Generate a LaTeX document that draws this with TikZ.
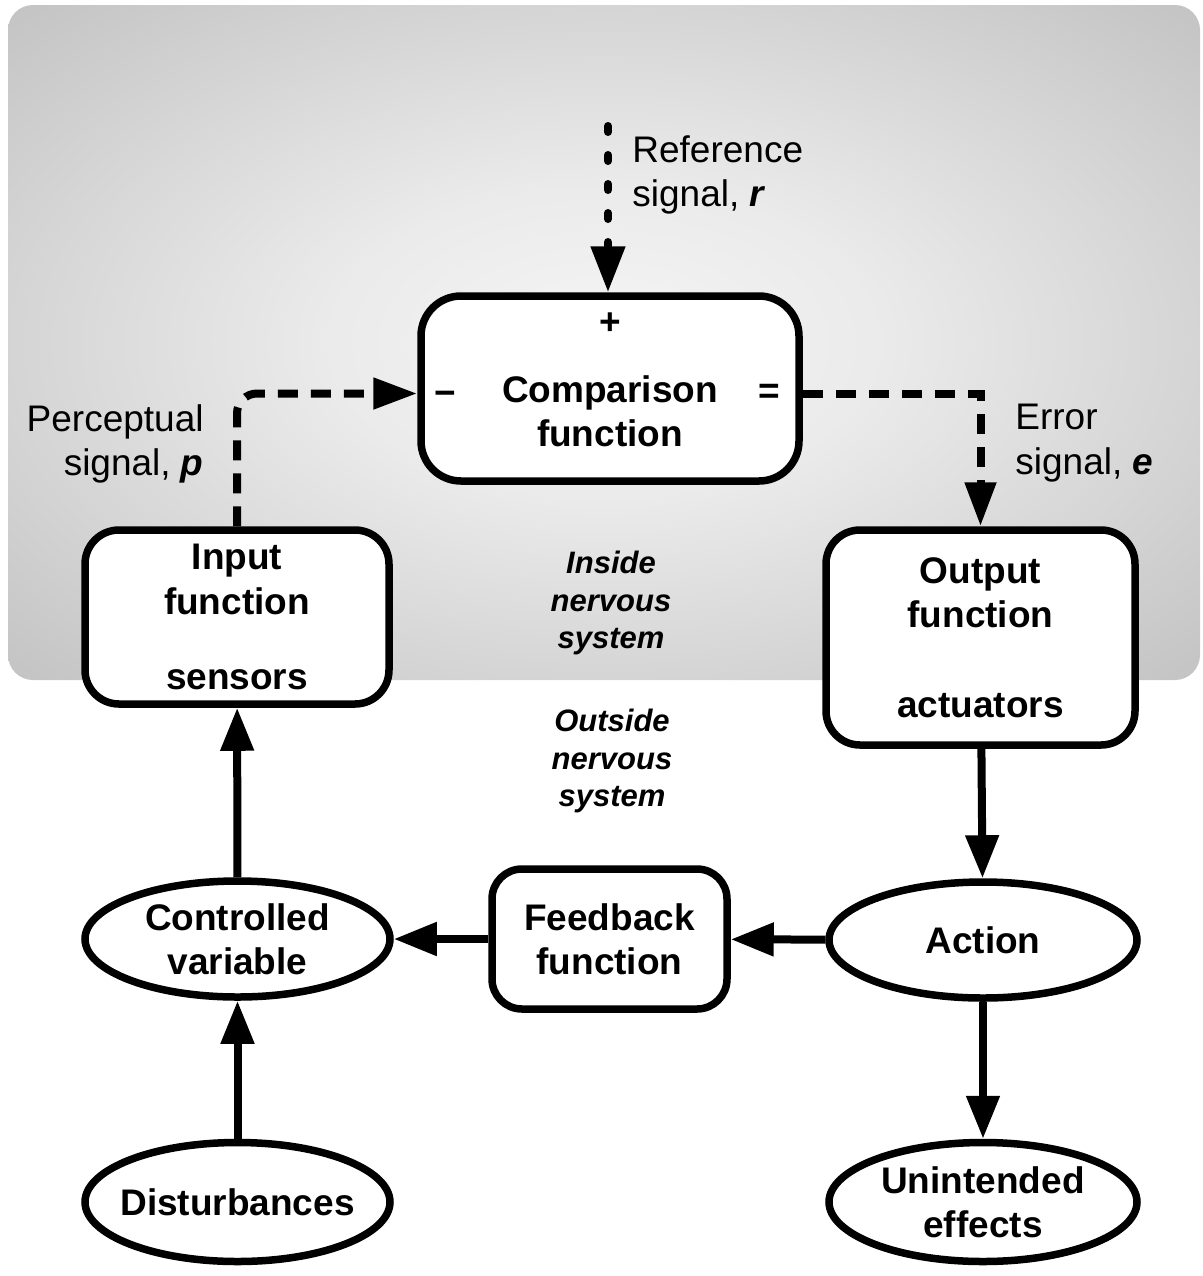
\documentclass[tikz,border=0pt]{standalone}
\usepackage{fontspec}
\setmainfont{Liberation Sans}
\usetikzlibrary{arrows.meta,positioning,shapes.geometric}
\definecolor{GlowA}{gray}{0.96}
\definecolor{GlowB}{gray}{0.92}
\definecolor{GlowC}{gray}{0.76}
\definecolor{GlowD}{gray}{0.66}
\definecolor{GlowE}{gray}{0.62}
\pgfdeclareradialshading{nervousglow}{\pgfpoint{0bp}{0bp}}{%
  color(0bp)=(GlowA); color(8bp)=(GlowB); color(25bp)=(GlowC);
  color(34.5bp)=(GlowD); color(50bp)=(GlowE)}
\newcommand{\labelsize}{\fontsize{18.5pt}{22.2pt}\selectfont}
\newcommand{\regionsize}{\fontsize{15.5pt}{18.6pt}\selectfont}

\tikzset{
  box/.style={draw, line width=3.75pt, fill=white, align=center,
    inner sep=0pt, font=\labelsize\bfseries},
  blob/.style={ellipse, draw, line width=3.75pt, fill=white, align=center,
    inner xsep=-6pt, inner ysep=0pt, font=\labelsize\bfseries},
  sign/.style={inner sep=0pt, font=\labelsize\bfseries},
  note/.style={inner sep=0pt, font=\labelsize},
  region/.style={inner sep=0pt, align=center, font=\regionsize\bfseries\itshape},
  flow/.style={line width=4pt, -{Triangle[length=21.5pt,width=16pt]}},
  signalline/.style={line width=4pt, dash pattern=on 10pt off 6.5pt,
    -{Triangle[length=22pt,width=15pt]}},
  refline/.style={line width=4pt, line cap=round, dash pattern=on 3pt off 11.5pt,
    -{Triangle[length=23pt,width=16.5pt]}}
}

\begin{document}
\begin{tikzpicture}[x=0.5pt,y=-0.5pt]
  \useasboundingbox (0,0) rectangle (1203,1276);
  % nervous system backdrop
  \begin{scope}
    \clip[rounded corners=12.5pt] (8,5) rectangle (1200,680);
    \shade[shading=nervousglow] (-260,-147) rectangle (1468,832);
  \end{scope}

  % comparison
  \node[box, rounded corners=20pt, minimum width=189pt, minimum height=92.5pt] (cmp) at (610,388.5) {};
  \node[sign, align=center] (cmptext) at (610,411) {Comparison\\function};
  \node[sign, below=10pt of cmp.north] (plus) {+};
  \node[sign, right=8.5pt of cmp.west, yshift=-5pt] (minus) {−};
  \node[sign, left=11pt of cmp.east, yshift=-2.5pt] (equals) {=};

  % blocks
  \node[box, rounded corners=17pt, minimum width=152pt, minimum height=87pt] (input) at (237,617) {Input\\function\\[15.5pt]sensors};
  \node[box, rounded corners=17pt, minimum width=154.5pt, minimum height=107.5pt] (output) at (980.5,637.5) {Output\\function\\[22.5pt]actuators};
  \node[box, rounded corners=15pt, minimum width=117.5pt, minimum height=70pt] (feedback) at (609.5,939) {Feedback\\function};

  % ellipses
  \node[blob, minimum width=152.5pt, minimum height=58pt] (ctrl) at (237.5,939) {Controlled\\variable};
  \node[blob, minimum width=154pt, minimum height=58pt] (action) at (983,940) {Action};
  \node[blob, minimum width=152.5pt, minimum height=59.5pt] (dist) at (237.5,1202) {Disturbances};
  \node[blob, minimum width=154pt, minimum height=59.5pt] (side) at (983,1202) {Unintended\\effects};

  % labels
  \node[note, anchor=north west, align=left] (reflabel) at (632,135) {Reference\\signal, \textbf{\textit{r}}};
  \node[note, anchor=north east, align=right] (plabel) at (204,404) {Perceptual\\signal, \textbf{\textit{p}}};
  \node[note, anchor=north west, align=left] (elabel) at (1015,404) {Error\\signal, \textbf{\textit{e}}};
  \node[region] (inside) at (611,603) {Inside\\nervous\\system};
  \node[region] (outside) at (612,761) {Outside\\nervous\\system};

  % signals
  \coordinate (refin) at (608,126);
  \draw[refline] (refin) -- (refin |- cmp.north);
  \draw[signalline, rounded corners=10pt] (input.north) |- ([yshift=-2.5pt]cmp.west);
  \draw[signalline] ([yshift=-2.5pt]cmp.east) -| (output.north);

  % loop
  \draw[flow] (dist) -- (ctrl);
  \draw[flow] (ctrl) -- (input);
  \draw[flow] (output) -- (action);
  \draw[flow] (action) -- (feedback);
  \draw[flow] (feedback) -- (ctrl);
  \draw[flow] (action) -- (side);
\end{tikzpicture}
\end{document}
